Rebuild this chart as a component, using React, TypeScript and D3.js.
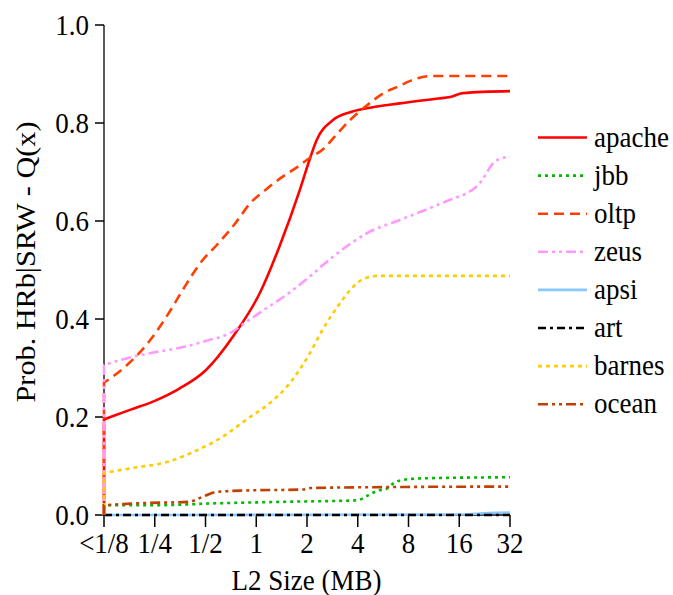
import React from "react";
import * as d3 from "d3";

type P = [number, number];

const seriesNames = ["apache", "jbb", "oltp", "zeus", "apsi", "art", "barnes", "ocean"];

const apache: P[] = [
  [0.125, 0.195], [0.18, 0.215], [0.25, 0.233], [0.35, 0.258], [0.5, 0.295], [0.73, 0.365],
  [1.05, 0.453], [1.38, 0.55], [1.82, 0.665], [2.08, 0.727], [2.28, 0.765], [2.85, 0.806],
  [3.6, 0.822], [4.53, 0.83], [7.1, 0.84], [12, 0.85], [14.1, 0.853], [16.8, 0.861], [32, 0.865],
];
const jbb: P[] = [
  [0.125, 0.02], [0.25, 0.02], [0.6, 0.024], [1.5, 0.027], [3.97, 0.03], [4.6, 0.04],
  [5.3, 0.05], [5.9, 0.053], [6.6, 0.066], [7.5, 0.072], [10, 0.075], [32, 0.077],
];
const oltp: P[] = [
  [0.125, 0.27], [0.17, 0.305], [0.235, 0.357], [0.3, 0.41], [0.36, 0.455], [0.48, 0.52],
  [0.58, 0.55], [0.75, 0.595], [0.92, 0.636], [1.15, 0.665], [1.4, 0.688], [1.75, 0.71],
  [2.08, 0.729], [2.5, 0.747], [2.85, 0.768], [3.6, 0.806], [4.5, 0.835], [5.7, 0.861],
  [7, 0.875], [8.2, 0.886], [11, 0.896], [32, 0.896],
];
const zeus: P[] = [
  [0.125, 0.306], [0.185, 0.323], [0.25, 0.332], [0.37, 0.343], [0.5, 0.355], [0.73, 0.375],
  [0.84, 0.39], [1.15, 0.422], [1.52, 0.45], [2.08, 0.487], [2.85, 0.527], [3.6, 0.553],
  [4.53, 0.575], [7.1, 0.602], [11.2, 0.629], [14.5, 0.645], [17.8, 0.657], [20.5, 0.672],
  [22.5, 0.69], [25, 0.715], [27.5, 0.726], [32, 0.731],
];
const apsi: P[] = [[0.125, 0.0], [16, 0.001], [24, 0.004], [32, 0.005]];
const art: P[] = [[0.125, 0.0], [32, 0.0]];
const barnes: P[] = [
  [0.125, 0.086], [0.185, 0.096], [0.295, 0.108], [0.464, 0.135], [0.58, 0.152], [0.92, 0.2],
  [1.2, 0.228], [1.52, 0.262], [1.82, 0.298], [2.08, 0.33], [2.4, 0.37], [2.8, 0.408],
  [3.14, 0.432], [3.6, 0.459], [4.1, 0.477], [4.6, 0.485], [5.2, 0.488], [32, 0.488],
];
const ocean: P[] = [
  [0.125, 0.02], [0.2, 0.024], [0.4, 0.027], [0.48, 0.037], [0.58, 0.047], [0.85, 0.05],
  [1.9, 0.052], [2.1, 0.055], [6, 0.057], [32, 0.058],
];

const seriesData: P[][] = [apache, jbb, oltp, zeus, apsi, art, barnes, ocean];
const seriesColors = ["#ff0000", "#00bb00", "#ff4000", "#ff99ff", "#88c8ff", "#000000", "#ffcc00", "#c04000"];
const seriesDash = ["", "3,4", "10,6", "10,4,3,4,3,4", "", "8,4,3,4", "4,4", "10,4,3,4,3,4"];

const xTicks = [0.125, 0.25, 0.5, 1, 2, 4, 8, 16, 32];
const xTickLabels = ["<1/8", "1/4", "1/2", "1", "2", "4", "8", "16", "32"];
const yTicks = [0, 0.2, 0.4, 0.6, 0.8, 1.0];

const FONT = '"Liberation Serif", "Times New Roman", serif';
const FS = 27;
const SY = 1.12;
const textStyle: React.CSSProperties = { fontFamily: FONT, fontSize: FS };

export default function App() {
  const x = d3.scaleLog().base(2).domain([0.125, 32]).range([104, 510]);
  const y = d3.scaleLinear().domain([0, 1]).range([515, 25]);
  const line = d3
    .line<P>()
    .x((d) => x(d[0]))
    .y((d) => y(d[1]))
    .curve(d3.curveMonotoneX);

  const drawOrder = [4, 5, 0, 1, 2, 3, 6, 7];
  const legendY0 = 137.5;
  const legendDy = 38.1;

  return (
    <svg
      width={673}
      height={595}
      style={{ position: "absolute", left: 0, top: 0, background: "#fff" }}
    >
      <rect width={673} height={595} fill="#fff" />
      <line x1={104} x2={104} y1={y(1)} y2={y(0)} stroke="#222" strokeWidth={1.5} />
      <line x1={104} x2={x(32)} y1={y(0)} y2={y(0)} stroke="#000" strokeWidth={1.5} />
      {yTicks.map((t) => (
        <g key={"yt" + t}>
          <line x1={95} x2={104} y1={y(t)} y2={y(t)} stroke="#000" strokeWidth={1.5} />
          <text
            transform={`translate(89,${y(t) + 10}) scale(1,${SY})`}
            textAnchor="end"
            style={textStyle}
            fill="#000"
          >
            {t.toFixed(1)}
          </text>
        </g>
      ))}
      {xTicks.map((t, i) => (
        <g key={"xt" + t}>
          <line x1={x(t)} x2={x(t)} y1={y(0)} y2={y(0) + 12} stroke="#000" strokeWidth={1.5} />
          <text
            transform={`translate(${x(t)},553) scale(1,${SY})`}
            textAnchor="middle"
            style={textStyle}
            fill="#000"
          >
            {xTickLabels[i]}
          </text>
        </g>
      ))}
      <text
        transform={`translate(306.5,590) scale(1,${SY})`}
        textAnchor="middle"
        style={textStyle}
        fill="#000"
      >
        L2 Size (MB)
      </text>
      <text
        transform={`translate(35,262) rotate(-90) scale(${SY},1)`}
        textAnchor="middle"
        style={textStyle}
        fill="#000"
      >
        Prob. HRb|SRW - Q(x)
      </text>

      {drawOrder.map((i) => {
        const data = seriesData[i];
        const d = `M${x(data[0][0])},${y(0)}` + (line(data) || "").replace(/^M/, "L");
        return (
          <path
            key={seriesNames[i]}
            d={d}
            fill="none"
            stroke={seriesColors[i]}
            strokeWidth={2.6}
            strokeDasharray={seriesDash[i] || undefined}
          />
        );
      })}

      {seriesNames.map((name, i) => {
        const ly = legendY0 + i * legendDy;
        return (
          <g key={"lg" + name}>
            <line
              x1={538}
              x2={587}
              y1={ly}
              y2={ly}
              stroke={seriesColors[i]}
              strokeWidth={2.6}
              strokeDasharray={seriesDash[i] || undefined}
            />
            <text
              transform={`translate(594,${ly + 9}) scale(1,${SY})`}
              style={textStyle}
              fill="#000"
            >
              {name}
            </text>
          </g>
        );
      })}
    </svg>
  );
}
